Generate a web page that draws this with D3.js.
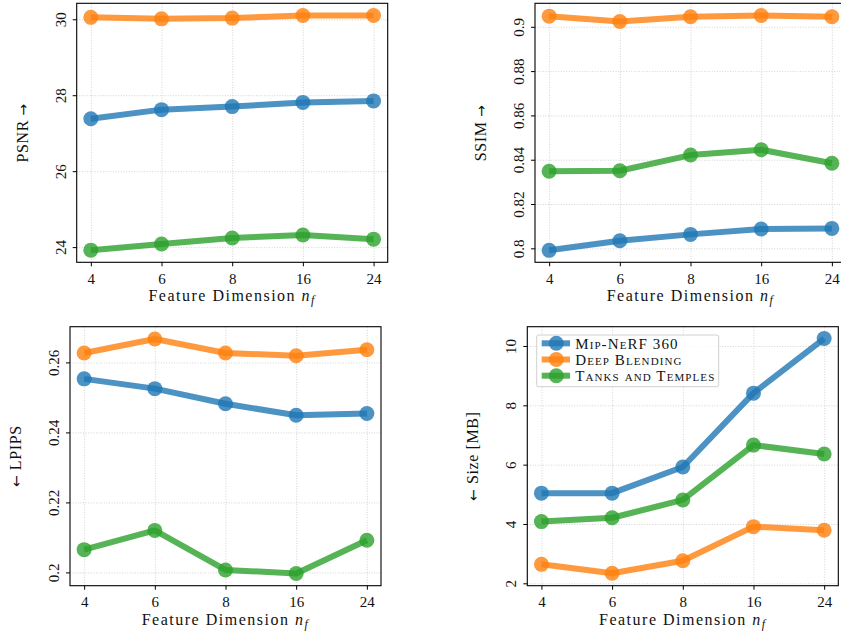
<!DOCTYPE html>
<meta charset="utf-8">
<style>
body { margin: 0; background: #fff; }
svg { display: block; font-family: "Liberation Serif", "Times New Roman", serif; }
.grid line { stroke: #c8c8c8; stroke-width: 0.8; stroke-dasharray: 1, 1.6; }
.grid .domain { display: none; }
.axis .domain { display: none; }
.axis line { stroke: #000; stroke-width: 1; }
.axis text { font-family: "Liberation Serif", serif; font-size: 15px; fill: #111; }
.arrow { font-family: "DejaVu Sans", sans-serif; font-size: 14px; }
</style>
<svg width="841" height="633"></svg>
<script src="https://cdnjs.cloudflare.com/ajax/libs/d3/7.8.5/d3.min.js"></script>
<script>

var categories = ["4", "6", "8", "16", "24"];
var seriesNames = ["Mip-NeRF 360", "Deep Blending", "Tanks and Temples"];
var colors = ["#1f77b4", "#ff7f0e", "#2ca02c"];

// one row per series, in seriesNames order
var psnrValues = [
  [27.38, 27.62, 27.70, 27.81, 27.85],
  [30.05, 30.01, 30.03, 30.10, 30.10],
  [23.92, 24.08, 24.24, 24.32, 24.21]
];
var ssimValues = [
  [0.7991, 0.8034, 0.8063, 0.8087, 0.8090],
  [0.9048, 0.9024, 0.9045, 0.9051, 0.9045],
  [0.8348, 0.8350, 0.8421, 0.8445, 0.8384]
];
var lpipsValues = [
  [0.2553, 0.2525, 0.2482, 0.2449, 0.2454],
  [0.2627, 0.2667, 0.2627, 0.2619, 0.2636],
  [0.2065, 0.2120, 0.2007, 0.1997, 0.2092]
];
var sizeValues = [
  [5.04, 5.04, 5.92, 8.41, 10.25],
  [2.64, 2.34, 2.76, 3.91, 3.79],
  [4.08, 4.21, 4.81, 6.66, 6.36]
];

var psnrTicks = [24, 26, 28, 30];
var ssimTicks = [0.8, 0.82, 0.84, 0.86, 0.88, 0.9];
var lpipsTicks = [0.2, 0.22, 0.24, 0.26];
var sizeTicks = [2, 4, 6, 8, 10];

// label parts: [before arrow, arrow, after arrow]
var panels = [
  {left: 76.7, top: 3.3, values: psnrValues, ticks: psnrTicks, domain: [23.6, 30.42], label: ["PSNR ", "\u2192", ""]},
  {left: 535, top: 3.3, values: ssimValues, ticks: ssimTicks, domain: [0.7937, 0.9106], label: ["SSIM ", "\u2192", ""]},
  {left: 70, top: 326.7, values: lpipsValues, ticks: lpipsTicks, domain: [0.1962, 0.2702], label: ["", "\u2190", " LPIPS"]},
  {left: 527.3, top: 326.7, values: sizeValues, ticks: sizeTicks, domain: [1.92, 10.65], label: ["", "\u2190", " Size [MB]"], legend: true}
];

var pw = 311, ph = 259;
var svg = d3.select("svg");
var serif = "'Liberation Serif', serif";

panels.forEach(function(p) {
  var g = svg.append("g").attr("transform", "translate(" + p.left + "," + p.top + ")");

  var x = d3.scalePoint().domain(categories).range([0, pw]).padding(0.2);
  var y = d3.scaleLinear().domain(p.domain).range([ph, 0]);

  // grid
  g.append("g").attr("class", "grid")
      .attr("transform", "translate(0," + ph + ")")
      .call(d3.axisBottom(x).tickSize(-ph).tickFormat(""));
  g.append("g").attr("class", "grid")
      .call(d3.axisLeft(y).tickValues(p.ticks).tickSize(-pw).tickFormat(""));

  // series
  var line = d3.line()
      .x(function(d, i) { return x(categories[i]); })
      .y(function(d) { return y(d); });

  p.values.forEach(function(vals, s) {
    g.append("path")
        .datum(vals)
        .attr("d", line)
        .attr("fill", "none")
        .attr("stroke", colors[s])
        .attr("stroke-opacity", 0.8)
        .attr("stroke-width", 6)
        .attr("stroke-linejoin", "round");
    g.append("g").selectAll("circle")
        .data(vals)
        .enter().append("circle")
        .attr("cx", function(d, i) { return x(categories[i]); })
        .attr("cy", function(d) { return y(d); })
        .attr("r", 7.5)
        .attr("fill", colors[s])
        .attr("fill-opacity", 0.8);
  });

  // axes
  var xa = g.append("g").attr("class", "axis")
      .attr("transform", "translate(0," + ph + ")")
      .call(d3.axisBottom(x).tickSize(4).tickPadding(3))
      .attr("font-family", serif);
  xa.selectAll("text").attr("dy", "0.95em").attr("font-family", serif);

  var ya = g.append("g").attr("class", "axis")
      .call(d3.axisLeft(y).tickValues(p.ticks).tickSize(4).tickFormat(d3.format("~g")))
      .attr("font-family", serif);
  ya.selectAll("text")
      .attr("x", 0)
      .attr("dy", 0)
      .attr("font-family", serif)
      .attr("text-anchor", "middle")
      .attr("transform", "translate(-11,0) rotate(-90)");

  g.append("rect")
      .attr("width", pw)
      .attr("height", ph)
      .attr("fill", "none")
      .attr("stroke", "#000")
      .attr("stroke-width", 1.1);

  // labels
  var yl = g.append("text")
      .attr("transform", "translate(-49," + (ph / 2) + ") rotate(-90)")
      .attr("text-anchor", "middle")
      .attr("font-size", 16)
      .attr("letter-spacing", 0.6)
      .attr("fill", "#111");
  yl.append("tspan").text(p.label[0]);
  yl.append("tspan").attr("class", "arrow").text(p.label[1]);
  yl.append("tspan").text(p.label[2]);

  var xl = g.append("text")
      .attr("x", pw / 2)
      .attr("y", ph + 39)
      .attr("text-anchor", "middle")
      .attr("font-size", 16)
      .attr("letter-spacing", 1.5)
      .attr("fill", "#111");
  xl.append("tspan").text("Feature Dimension ");
  xl.append("tspan").attr("font-style", "italic").text("n");
  xl.append("tspan").attr("font-style", "italic").attr("font-size", 12).attr("dy", 3).text("f");

  if (p.legend) {
    var lg = g.append("g").attr("transform", "translate(9.4,8.3)");
    lg.append("rect")
        .attr("width", 182)
        .attr("height", 51.7)
        .attr("rx", 2)
        .attr("fill", "#fff")
        .attr("fill-opacity", 0.8)
        .attr("stroke", "#d0d0d0");
    var row = lg.selectAll("g.row")
        .data(seriesNames)
        .enter().append("g")
        .attr("class", "row")
        .attr("transform", function(d, i) { return "translate(0," + (8.3 + i * 16.2) + ")"; });
    row.append("line")
        .attr("x1", 5).attr("x2", 33.3)
        .attr("stroke", function(d, i) { return colors[i]; })
        .attr("stroke-opacity", 0.8)
        .attr("stroke-width", 6);
    row.append("circle")
        .attr("cx", 19.6)
        .attr("r", 7.5)
        .attr("fill", function(d, i) { return colors[i]; })
        .attr("fill-opacity", 0.8);
    row.append("text")
        .attr("x", 38.5)
        .attr("dy", "0.35em")
        .attr("font-size", 15)
        .attr("letter-spacing", 1.1)
        .attr("font-variant", "small-caps")
        .attr("fill", "#111")
        .text(function(d) { return d; });
  }
});

</script>
